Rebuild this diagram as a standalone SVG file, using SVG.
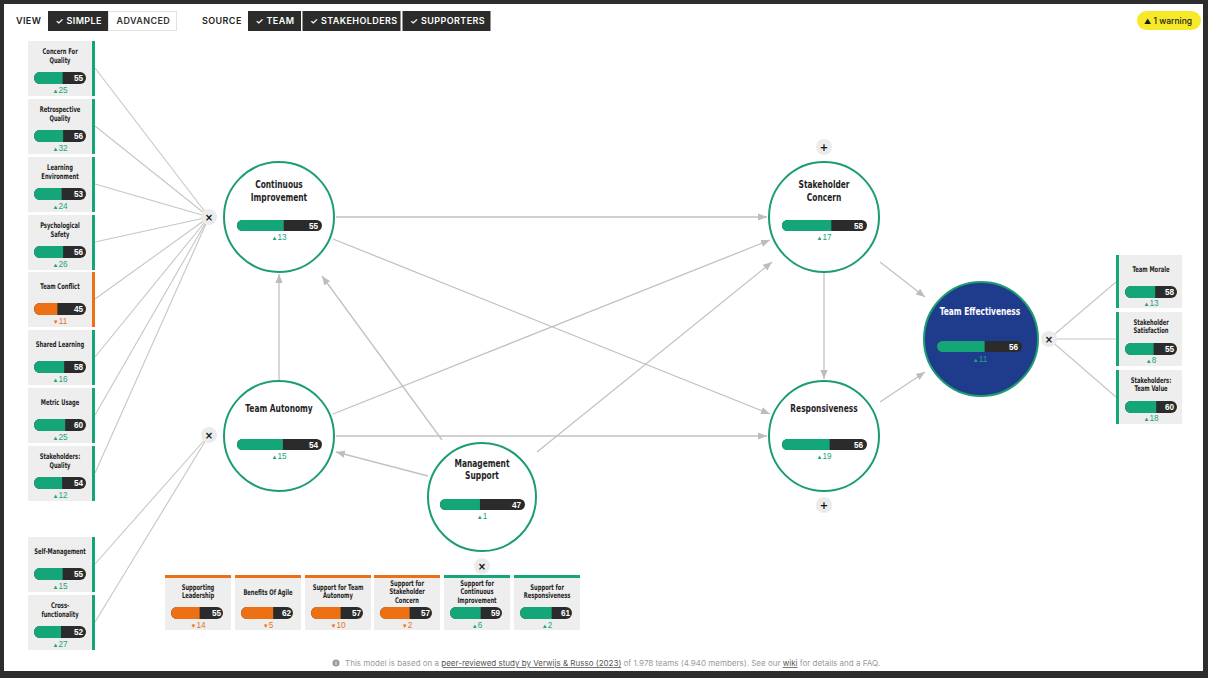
<svg xmlns="http://www.w3.org/2000/svg" width="1208" height="678" viewBox="0 0 1208 678">
<style>
.card{fill:#eeeeee}
.gb{fill:#14a679}
.ob{fill:#ee7015}
.dk{fill:#2b2b2b}
.t{font-family:"DejaVu Sans Condensed","Liberation Sans",sans-serif;font-weight:bold;fill:#1e1e1e;text-anchor:middle;transform-box:fill-box;transform-origin:center}
.ts{font-size:7.8px;transform:scaleX(.74)}
.tc{font-size:10.8px;transform:scaleX(.77)}
.num{font-family:"Liberation Sans",Arial,sans-serif;font-weight:bold;font-size:8.2px;fill:#fff;text-anchor:end}
.dg{font-family:"Liberation Sans",Arial,sans-serif;font-size:8.2px;fill:#1aa37a;text-anchor:middle}
.do{font-family:"Liberation Sans",Arial,sans-serif;font-size:8.2px;fill:#e8711a;text-anchor:middle}
.tri{font-size:6px}
.node{fill:#fff;stroke:#1c9d71;stroke-width:2}
.conn{stroke:#c6c6c6;stroke-width:1.1;fill:none}
.arr{stroke:#c2c2c2;stroke-width:1.3;fill:none;marker-end:url(#ah)}
.btn{fill:#ebebeb}
.bt{font-family:"DejaVu Sans",sans-serif;font-weight:bold;font-size:10px;text-anchor:middle;fill:#111}
.tb{font-family:Inter,"Liberation Sans",sans-serif;font-weight:600;font-size:9px;letter-spacing:0.4px}
</style>
<defs>
<marker id="ah" viewBox="0 0 10 10" refX="10" refY="5" markerWidth="9" markerHeight="9" markerUnits="userSpaceOnUse" orient="auto"><path d="M0,1 L10,5 L0,9 z" fill="#bdbdbd"/></marker>
</defs>

<rect x="0" y="0" width="1208" height="678" fill="#2d2d2d"/>
<rect x="4" y="4" width="1199" height="667" fill="#ffffff"/>

<g id="toolbar">
<text class="tb" x="16" y="24" fill="#222">VIEW</text>
<rect x="48" y="11" width="60" height="20" fill="#2b2b2b"/>
<text class="tb" x="55.5" y="24" fill="#fff">✓ SIMPLE</text>
<rect x="108.5" y="11.5" width="68" height="19" fill="#fff" stroke="#e2e2e2"/>
<text class="tb" x="116.5" y="24" fill="#333">ADVANCED</text>
<text class="tb" x="202" y="24" fill="#222">SOURCE</text>
<rect x="248" y="11" width="53" height="20" fill="#2b2b2b"/>
<text class="tb" x="255.5" y="24" fill="#fff">✓ TEAM</text>
<rect x="302.5" y="11" width="98" height="20" fill="#2b2b2b"/>
<text class="tb" x="310" y="24" fill="#fff">✓ STAKEHOLDERS</text>
<rect x="402.5" y="11" width="88" height="20" fill="#2b2b2b"/>
<text class="tb" x="410" y="24" fill="#fff">✓ SUPPORTERS</text>
</g>

<g id="warning">
<rect x="1137" y="11" width="64" height="19" rx="9.5" fill="#f6e928"/>
<text x="1144" y="24" font-family="Inter,'Liberation Sans',sans-serif" font-size="8.5" font-weight="500" fill="#1a1a1a"><tspan font-size="7">▲</tspan> 1 warning</text>
</g>

<g id="connectors">
<line class="conn" x1="95" y1="68" x2="209" y2="217"/>
<line class="conn" x1="95" y1="126" x2="209" y2="217"/>
<line class="conn" x1="95" y1="184" x2="209" y2="217"/>
<line class="conn" x1="95" y1="242" x2="209" y2="217"/>
<line class="conn" x1="95" y1="299" x2="209" y2="217"/>
<line class="conn" x1="95" y1="357" x2="209" y2="217"/>
<line class="conn" x1="95" y1="415" x2="209" y2="217"/>
<line class="conn" x1="95" y1="473" x2="209" y2="217"/>
<line class="conn" x1="95" y1="564" x2="209" y2="435"/>
<line class="conn" x1="95" y1="622" x2="209" y2="435"/>
<line class="conn" x1="1049" y1="339" x2="1116" y2="282"/>
<line class="conn" x1="1049" y1="339" x2="1116" y2="339"/>
<line class="conn" x1="1049" y1="339" x2="1116" y2="397"/>
<line class="arr" x1="336" y1="217" x2="767" y2="217"/>
<line class="arr" x1="336" y1="436" x2="767" y2="436"/>
<line class="arr" x1="279" y1="380" x2="279" y2="274"/>
<line class="arr" x1="824" y1="273" x2="824" y2="379"/>
<line class="arr" x1="333" y1="239" x2="770" y2="414"/>
<line class="arr" x1="333" y1="414" x2="770" y2="240"/>
<line class="arr" x1="428" y1="476" x2="336" y2="452"/>
<line class="arr" x1="442" y1="440" x2="322" y2="276"/>
<line class="arr" x1="537" y1="452" x2="772" y2="262"/>
<line class="arr" x1="880" y1="262" x2="925" y2="297"/>
<line class="arr" x1="880" y1="402" x2="925" y2="372"/>
</g>

<!-- left cards -->
<g id="concern-for-quality">
<rect class="card" x="28" y="41" width="64" height="55"/><rect x="92" y="41" width="3" height="55" class="gb"/>
<text class="t ts" x="60" y="54.3">Concern For</text><text class="t ts" x="60" y="62.6">Quality</text>
<rect class="dk" x="34" y="72" width="52" height="12" rx="6"/><path class="gb" d="M40,72 h22.6 v12 h-22.6 a6 6 0 0 1 0-12z"/>
<text class="num" x="83" y="81">55</text>
<text class="dg" x="60" y="92.5"><tspan class="tri">▲</tspan>25</text>
</g>
<g id="retrospective-quality">
<rect class="card" x="28" y="99" width="64" height="55"/><rect x="92" y="99" width="3" height="55" class="gb"/>
<text class="t ts" x="60" y="112.3">Retrospective</text><text class="t ts" x="60" y="120.6">Quality</text>
<rect class="dk" x="34" y="130" width="52" height="12" rx="6"/><path class="gb" d="M40,130 h23.1 v12 h-23.1 a6 6 0 0 1 0-12z"/>
<text class="num" x="83" y="139">56</text>
<text class="dg" x="60" y="150.5"><tspan class="tri">▲</tspan>32</text>
</g>
<g id="learning-environment">
<rect class="card" x="28" y="157" width="64" height="55"/><rect x="92" y="157" width="3" height="55" class="gb"/>
<text class="t ts" x="60" y="170.3">Learning</text><text class="t ts" x="60" y="178.6">Environment</text>
<rect class="dk" x="34" y="188" width="52" height="12" rx="6"/><path class="gb" d="M40,188 h21.6 v12 h-21.6 a6 6 0 0 1 0-12z"/>
<text class="num" x="83" y="197">53</text>
<text class="dg" x="60" y="208.5"><tspan class="tri">▲</tspan>24</text>
</g>
<g id="psychological-safety">
<rect class="card" x="28" y="215" width="64" height="55"/><rect x="92" y="215" width="3" height="55" class="gb"/>
<text class="t ts" x="60" y="228.3">Psychological</text><text class="t ts" x="60" y="236.6">Safety</text>
<rect class="dk" x="34" y="246" width="52" height="12" rx="6"/><path class="gb" d="M40,246 h23.1 v12 h-23.1 a6 6 0 0 1 0-12z"/>
<text class="num" x="83" y="255">56</text>
<text class="dg" x="60" y="266.5"><tspan class="tri">▲</tspan>26</text>
</g>
<g id="team-conflict">
<rect class="card" x="28" y="272" width="64" height="55"/><rect x="92" y="272" width="3" height="55" class="ob"/>
<text class="t ts" x="60" y="289">Team Conflict</text>
<rect class="dk" x="34" y="303" width="52" height="12" rx="6"/><path class="ob" d="M40,303 h17.4 v12 h-17.4 a6 6 0 0 1 0-12z"/>
<text class="num" x="83" y="312">45</text>
<text class="do" x="60" y="323.5"><tspan class="tri">▼</tspan>11</text>
</g>
<g id="shared-learning">
<rect class="card" x="28" y="330" width="64" height="55"/><rect x="92" y="330" width="3" height="55" class="gb"/>
<text class="t ts" x="60" y="347">Shared Learning</text>
<rect class="dk" x="34" y="361" width="52" height="12" rx="6"/><path class="gb" d="M40,361 h24.2 v12 h-24.2 a6 6 0 0 1 0-12z"/>
<text class="num" x="83" y="370">58</text>
<text class="dg" x="60" y="381.5"><tspan class="tri">▲</tspan>16</text>
</g>
<g id="metric-usage">
<rect class="card" x="28" y="388" width="64" height="55"/><rect x="92" y="388" width="3" height="55" class="gb"/>
<text class="t ts" x="60" y="405">Metric Usage</text>
<rect class="dk" x="34" y="419" width="52" height="12" rx="6"/><path class="gb" d="M40,419 h25.2 v12 h-25.2 a6 6 0 0 1 0-12z"/>
<text class="num" x="83" y="428">60</text>
<text class="dg" x="60" y="439.5"><tspan class="tri">▲</tspan>25</text>
</g>
<g id="stakeholders-quality">
<rect class="card" x="28" y="446" width="64" height="55"/><rect x="92" y="446" width="3" height="55" class="gb"/>
<text class="t ts" x="60" y="459.3">Stakeholders:</text><text class="t ts" x="60" y="467.6">Quality</text>
<rect class="dk" x="34" y="477" width="52" height="12" rx="6"/><path class="gb" d="M40,477 h22.1 v12 h-22.1 a6 6 0 0 1 0-12z"/>
<text class="num" x="83" y="486">54</text>
<text class="dg" x="60" y="497.5"><tspan class="tri">▲</tspan>12</text>
</g>
<g id="self-management">
<rect class="card" x="28" y="537" width="64" height="55"/><rect x="92" y="537" width="3" height="55" class="gb"/>
<text class="t ts" x="60" y="554">Self-Management</text>
<rect class="dk" x="34" y="568" width="52" height="12" rx="6"/><path class="gb" d="M40,568 h22.6 v12 h-22.6 a6 6 0 0 1 0-12z"/>
<text class="num" x="83" y="577">55</text>
<text class="dg" x="60" y="588.5"><tspan class="tri">▲</tspan>15</text>
</g>
<g id="cross-functionality">
<rect class="card" x="28" y="595" width="64" height="55"/><rect x="92" y="595" width="3" height="55" class="gb"/>
<text class="t ts" x="60" y="608.3">Cross-</text><text class="t ts" x="60" y="616.6">functionality</text>
<rect class="dk" x="34" y="626" width="52" height="12" rx="6"/><path class="gb" d="M40,626 h21 v12 h-21 a6 6 0 0 1 0-12z"/>
<text class="num" x="83" y="635">52</text>
<text class="dg" x="60" y="646.5"><tspan class="tri">▲</tspan>27</text>
</g>

<!-- right cards -->
<g id="team-morale">
<rect class="card" x="1116" y="255" width="66" height="53"/><rect x="1116" y="255" width="3" height="53" class="gb"/>
<text class="t ts" x="1151" y="272">Team Morale</text>
<rect class="dk" x="1125" y="286" width="52" height="12" rx="6"/><path class="gb" d="M1131,286 h24.2 v12 h-24.2 a6 6 0 0 1 0-12z"/>
<text class="num" x="1174" y="295">58</text>
<text class="dg" x="1151" y="305.5"><tspan class="tri">▲</tspan>13</text>
</g>
<g id="stakeholder-satisfaction">
<rect class="card" x="1116" y="312" width="66" height="54"/><rect x="1116" y="312" width="3" height="54" class="gb"/>
<text class="t ts" x="1151" y="325">Stakeholder</text><text class="t ts" x="1151" y="333.3">Satisfaction</text>
<rect class="dk" x="1125" y="343" width="52" height="12" rx="6"/><path class="gb" d="M1131,343 h22.6 v12 h-22.6 a6 6 0 0 1 0-12z"/>
<text class="num" x="1174" y="352">55</text>
<text class="dg" x="1151" y="363"><tspan class="tri">▲</tspan>8</text>
</g>
<g id="stakeholders-team-value">
<rect class="card" x="1116" y="370" width="66" height="54"/><rect x="1116" y="370" width="3" height="54" class="gb"/>
<text class="t ts" x="1151" y="383">Stakeholders:</text><text class="t ts" x="1151" y="391.3">Team Value</text>
<rect class="dk" x="1125" y="401" width="52" height="12" rx="6"/><path class="gb" d="M1131,401 h25.2 v12 h-25.2 a6 6 0 0 1 0-12z"/>
<text class="num" x="1174" y="410">60</text>
<text class="dg" x="1151" y="421"><tspan class="tri">▲</tspan>18</text>
</g>

<!-- bottom cards -->
<g id="supporting-leadership">
<rect class="ob" x="165" y="575" width="66" height="3"/><rect class="card" x="165" y="578" width="66" height="52"/>
<text class="t ts" x="198" y="589.6">Supporting</text><text class="t ts" x="198" y="598">Leadership</text>
<rect class="dk" x="171" y="607" width="52" height="12" rx="6"/><path class="ob" d="M177,607 h22.6 v12 h-22.6 a6 6 0 0 1 0-12z"/>
<text class="num" x="221" y="616">55</text>
<text class="do" x="198" y="627.5"><tspan class="tri">▼</tspan>14</text>
</g>
<g id="benefits-of-agile">
<rect class="ob" x="235" y="575" width="66" height="3"/><rect class="card" x="235" y="578" width="66" height="52"/>
<text class="t ts" x="268" y="595.3">Benefits Of Agile</text>
<rect class="dk" x="241" y="607" width="52" height="12" rx="6"/><path class="ob" d="M247,607 h26.2 v12 h-26.2 a6 6 0 0 1 0-12z"/>
<text class="num" x="291" y="616">62</text>
<text class="do" x="268" y="627.5"><tspan class="tri">▼</tspan>5</text>
</g>
<g id="support-team-autonomy">
<rect class="ob" x="305" y="575" width="66" height="3"/><rect class="card" x="305" y="578" width="66" height="52"/>
<text class="t ts" x="338" y="589.6">Support for Team</text><text class="t ts" x="338" y="598">Autonomy</text>
<rect class="dk" x="311" y="607" width="52" height="12" rx="6"/><path class="ob" d="M317,607 h23.6 v12 h-23.6 a6 6 0 0 1 0-12z"/>
<text class="num" x="361" y="616">57</text>
<text class="do" x="338" y="627.5"><tspan class="tri">▼</tspan>10</text>
</g>
<g id="support-stakeholder-concern">
<rect class="ob" x="374" y="575" width="66" height="3"/><rect class="card" x="374" y="578" width="66" height="52"/>
<text class="t ts" x="407" y="586">Support for</text><text class="t ts" x="407" y="594.5">Stakeholder</text><text class="t ts" x="407" y="603">Concern</text>
<rect class="dk" x="380" y="607" width="52" height="12" rx="6"/><path class="ob" d="M386,607 h23.6 v12 h-23.6 a6 6 0 0 1 0-12z"/>
<text class="num" x="430" y="616">57</text>
<text class="do" x="407" y="627.5"><tspan class="tri">▼</tspan>2</text>
</g>
<g id="support-continuous-improvement">
<rect class="gb" x="444" y="575" width="66" height="3"/><rect class="card" x="444" y="578" width="66" height="52"/>
<text class="t ts" x="477" y="586">Support for</text><text class="t ts" x="477" y="594.5">Continuous</text><text class="t ts" x="477" y="603">Improvement</text>
<rect class="dk" x="450" y="607" width="52" height="12" rx="6"/><path class="gb" d="M456,607 h24.7 v12 h-24.7 a6 6 0 0 1 0-12z"/>
<text class="num" x="500" y="616">59</text>
<text class="dg" x="477" y="627.5"><tspan class="tri">▲</tspan>6</text>
</g>
<g id="support-responsiveness">
<rect class="gb" x="514" y="575" width="66" height="3"/><rect class="card" x="514" y="578" width="66" height="52"/>
<text class="t ts" x="547" y="589.6">Support for</text><text class="t ts" x="547" y="598">Responsiveness</text>
<rect class="dk" x="520" y="607" width="52" height="12" rx="6"/><path class="gb" d="M526,607 h25.7 v12 h-25.7 a6 6 0 0 1 0-12z"/>
<text class="num" x="570" y="616">61</text>
<text class="dg" x="547" y="627.5"><tspan class="tri">▲</tspan>2</text>
</g>

<!-- circle nodes -->
<g id="continuous-improvement">
<circle class="node" cx="279" cy="217" r="55"/>
<text class="t tc" x="279" y="188">Continuous</text><text class="t tc" x="279" y="201">Improvement</text>
<rect class="dk" x="237" y="220" width="85" height="11" rx="5.5"/><path class="gb" d="M242.5,220 h41.25 v11 h-41.25 a5.5 5.5 0 0 1 0-11z"/>
<text class="num" x="318" y="228.5">55</text>
<text class="dg" x="279" y="240"><tspan class="tri">▲</tspan>13</text>
</g>
<g id="stakeholder-concern">
<circle class="node" cx="824" cy="217" r="55"/>
<text class="t tc" x="824" y="188">Stakeholder</text><text class="t tc" x="824" y="201">Concern</text>
<rect class="dk" x="782" y="220" width="85" height="11" rx="5.5"/><path class="gb" d="M787.5,220 h43.8 v11 h-43.8 a5.5 5.5 0 0 1 0-11z"/>
<text class="num" x="863" y="228.5">58</text>
<text class="dg" x="824" y="240"><tspan class="tri">▲</tspan>17</text>
</g>
<g id="team-autonomy">
<circle class="node" cx="279" cy="436" r="55"/>
<text class="t tc" x="279" y="412">Team Autonomy</text>
<rect class="dk" x="237" y="439" width="85" height="11" rx="5.5"/><path class="gb" d="M242.5,439 h40.4 v11 h-40.4 a5.5 5.5 0 0 1 0-11z"/>
<text class="num" x="318" y="447.5">54</text>
<text class="dg" x="279" y="459"><tspan class="tri">▲</tspan>15</text>
</g>
<g id="responsiveness">
<circle class="node" cx="824" cy="436" r="55"/>
<text class="t tc" x="824" y="412">Responsiveness</text>
<rect class="dk" x="782" y="439" width="85" height="11" rx="5.5"/><path class="gb" d="M787.5,439 h42.1 v11 h-42.1 a5.5 5.5 0 0 1 0-11z"/>
<text class="num" x="863" y="447.5">56</text>
<text class="dg" x="824" y="459"><tspan class="tri">▲</tspan>19</text>
</g>
<g id="management-support">
<circle class="node" cx="482" cy="497" r="54"/>
<text class="t tc" x="482" y="467">Management</text><text class="t tc" x="482" y="479">Support</text>
<rect class="dk" x="440" y="499" width="85" height="11" rx="5.5"/><path class="gb" d="M445.5,499 h34.45 v11 h-34.45 a5.5 5.5 0 0 1 0-11z"/>
<text class="num" x="521" y="507.5">47</text>
<text class="dg" x="482" y="519"><tspan class="tri">▲</tspan>1</text>
</g>
<g id="team-effectiveness">
<circle cx="981" cy="339" r="57" fill="#1f3c8c" stroke="#1c9d71" stroke-width="2"/>
<text class="t tc" x="980" y="315.5" style="fill:#fff">Team Effectiveness</text>
<rect class="dk" x="937" y="341" width="85" height="11" rx="5.5"/><path class="gb" d="M942.5,341 h42.1 v11 h-42.1 a5.5 5.5 0 0 1 0-11z"/>
<text class="num" x="1018" y="349.5">56</text>
<text class="dg" x="980" y="362" style="fill:#2a9f80"><tspan class="tri">▲</tspan>11</text>
</g>

<!-- buttons -->
<g id="btn-ci"><circle class="btn" cx="209" cy="217" r="8"/><text class="bt" x="209" y="220.5">×</text></g>
<g id="btn-ta"><circle class="btn" cx="209" cy="435" r="8"/><text class="bt" x="209" y="438.5">×</text></g>
<g id="btn-te"><circle class="btn" cx="1049" cy="339" r="8"/><text class="bt" x="1049" y="342.5">×</text></g>
<g id="btn-ms"><circle class="btn" cx="482" cy="566" r="8"/><text class="bt" x="482" y="569.5">×</text></g>
<g id="btn-sc"><circle class="btn" cx="824" cy="147" r="8"/><text class="bt" x="824" y="150.5">+</text></g>
<g id="btn-r"><circle class="btn" cx="824" cy="505" r="8"/><text class="bt" x="824" y="508.5">+</text></g>

<g id="footer">
<circle cx="336" cy="663" r="3.5" fill="#9a9a9a"/>
<text x="336" y="665" font-family="'Liberation Sans',sans-serif" font-size="5" font-weight="bold" fill="#fff" text-anchor="middle">i</text>
<text x="345" y="666" font-family="Inter,'Liberation Sans',sans-serif" font-size="8" fill="#9a9a9a">This model is based on a <tspan fill="#555" text-decoration="underline">peer-reviewed study by Verwijs &amp; Russo (2023)</tspan> of 1.978 teams (4.940 members). See our <tspan fill="#555" text-decoration="underline">wiki</tspan> for details and a FAQ.</text>
</g>
</svg>
